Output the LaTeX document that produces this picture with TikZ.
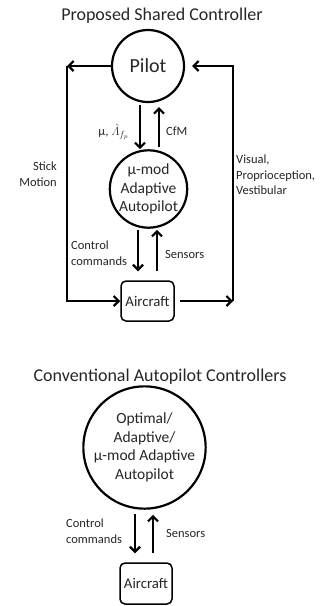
\documentclass[tikz,border=0pt]{standalone}
\usepackage{amsmath}
\usepackage{fontspec}
\setmainfont{Carlito}
\usetikzlibrary{arrows.meta}
\definecolor{txt}{HTML}{262626}
\begin{document}
\begin{tikzpicture}[x=1pt,y=-1pt,
  ln/.style={line width=2.2pt,-{Straight Barb[length=5pt,width=10pt,line width=2.2pt]}},
  circ/.style={circle,draw,line width=2.2pt,inner sep=0pt,align=center,text=txt,font=\fontsize{15.5}{18.5}\selectfont},
  box/.style={draw,line width=1.5pt,rounded corners=5pt,inner sep=0pt,text=txt,font=\fontsize{14.8}{17}\selectfont},
  ttl/.style={text=txt,font=\fontsize{18}{21}\selectfont},
  lbl/.style={text=txt,inner sep=0pt,font=\fontsize{12.5}{15.5}\selectfont}]
\useasboundingbox (0,0) rectangle (323,606);
% top part
\node[ttl] (t1) at (162,16) {Proposed Shared Controller};
\node[circ,minimum size=72pt,font=\fontsize{20}{24}\selectfont] (pilot) at (148,66) {Pilot};
\node[circ,minimum size=77pt] (auto) at (148.5,189) {μ-mod\\Adaptive\\Autopilot};
\node[box,minimum width=53pt,minimum height=40pt] (air) at (147.5,301) {Aircraft};
\coordinate (cl) at (67,66);
\coordinate (cr) at (233,301);
\draw[ln] (pilot.west) -- (cl);
\draw[ln] (cl) |- (air.west);
\draw[ln,shorten <=5pt] (air.east) -- (cr);
\draw[ln,shorten >=7pt] (cr) |- (pilot.east);
\draw[ln,shorten <=2pt] ([xshift=-8pt]pilot.south) -- ([xshift=-8.5pt]auto.north);
\draw[ln,shorten <=2pt,shorten >=4pt] ([xshift=10.5pt]auto.north) -- ([xshift=11pt]pilot.south);
\draw[ln,shorten <=1pt,shorten >=9pt] ([xshift=-10.5pt]auto.south) -- ([xshift=-9.5pt]air.north);
\draw[ln,shorten <=9pt,shorten >=1pt] ([xshift=9.5pt]air.north) -- ([xshift=8.5pt]auto.south);
\node[lbl,anchor=east] (l1) at (129,132) {μ, $\hat{\varLambda}_{f_p}$};
\node[lbl,anchor=west] (l2) at (166,131) {CfM};
\node[lbl,anchor=east,align=right] (l3) at (57,174) {Stick\\Motion};
\node[lbl,anchor=west,align=left] (l4) at (236,175) {Visual,\\Proprioception,\\Vestibular};
\node[lbl,anchor=west,align=left] (l5) at (71,253) {Control\\commands};
\node[lbl,anchor=west] (l6) at (165,254) {Sensors};
% bottom part
\node[ttl] (t2) at (160,377) {Conventional Autopilot Controllers};
\node[circ,minimum size=111pt] (auto2) at (144.5,447.5) {Optimal/\\Adaptive/\\μ-mod Adaptive\\Autopilot};
\node[box,minimum width=52pt,minimum height=41pt] (air2) at (146,583.5) {Aircraft};
\draw[ln,shorten <=4pt,shorten >=9pt] ([xshift=-9.5pt]auto2.south) -- ([xshift=-11pt]air2.north);
\draw[ln,shorten <=9pt,shorten >=5pt] ([xshift=7pt]air2.north) -- ([xshift=8.5pt]auto2.south);
\node[lbl,anchor=west,align=left] (l7) at (66,531) {Control\\commands};
\node[lbl,anchor=west] (l8) at (166,533) {Sensors};
\end{tikzpicture}
\end{document}
